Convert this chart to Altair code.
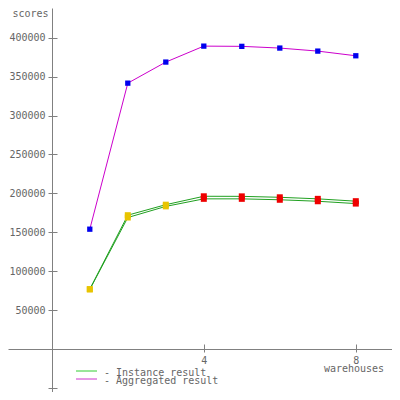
import altair as alt
import pandas as pd

# ---- data ----
warehouses = [1, 2, 3, 4, 5, 6, 7, 8]
instance_1 = [77000, 172000, 185500, 196300, 196200, 195000, 193000, 190000]
instance_2 = [76500, 169000, 183300, 193000, 193000, 191800, 189900, 186900]
aggregated = [154000, 341700, 368800, 389300, 389000, 386800, 382900, 376900]
phase = ["ramp", "ramp", "ramp", "peak", "peak", "peak", "peak", "peak"]

x_ticks = [4, 8]
y_ticks = [-50000, 50000, 100000, 150000, 200000, 250000, 300000, 350000, 400000]
legend_labels = ["- Instance result", "- Aggregated result"]

# ---- tables ----
rows = []
for name, vals in [("Instance 1", instance_1), ("Instance 2", instance_2), ("Aggregated", aggregated)]:
    for i, (w, v) in enumerate(zip(warehouses, vals)):
        rows.append({
            "warehouses": w,
            "score": v,
            "series": name,
            "kind": "Aggregated" if name == "Aggregated" else "Instance",
            "marker": "aggregate" if name == "Aggregated" else phase[i],
        })
df = pd.DataFrame(rows)

W, H = 384, 384
x_dom = [-1.1526, 8.9527]
y_dom = [-55270, 438303]
FONT = "DejaVu Sans Mono"
GRAY = "#808080"
TXT = "#666666"

x_scale = alt.Scale(domain=x_dom, nice=False, zero=False)
y_scale = alt.Scale(domain=y_dom, nice=False, zero=False)

x_axis = alt.Axis(
    orient="bottom", offset=-43, values=x_ticks, tickSize=3, labelPadding=11,
    labelBaseline="alphabetic", labelFont=FONT, labelFontSize=10, labelColor=TXT,
    domainColor=GRAY, tickColor=GRAY, grid=False, title="warehouses",
    titleFont=FONT, titleFontSize=10, titleFontWeight="normal", titleColor=TXT,
    titleX=345.5, titleY=22, titleAlign="center", titleBaseline="alphabetic",
    labelFlush=False, labelOverlap=False,
)
y_axis = alt.Axis(
    orient="left", offset=-44, values=y_ticks, tickSize=4, labelPadding=3,
    labelExpr="datum.value > 0 ? datum.label : ''", format="d",
    labelFont=FONT, labelFontSize=10, labelColor=TXT,
    domainColor=GRAY, tickColor=GRAY, grid=False, title="scores",
    titleFont=FONT, titleFontSize=10, titleFontWeight="normal", titleColor=TXT,
    titleAngle=0, titleX=-22, titleY=8, titleAlign="center", titleBaseline="alphabetic",
    labelFlush=False, labelOverlap=False,
)

base = alt.Chart(df)
marker_scale = alt.Scale(domain=["ramp", "peak", "aggregate"],
                         range=["#e8c400", "#ee0000", "#0000ee"])

lines = base.mark_line(strokeWidth=1).encode(
    x=alt.X("warehouses:Q", scale=x_scale, axis=x_axis),
    y=alt.Y("score:Q", scale=y_scale, axis=y_axis),
    color=alt.Color("kind:N", scale=alt.Scale(domain=["Instance", "Aggregated"],
                                              range=["#20a020", "#cc00cc"]), legend=None),
    detail="series:N",
)

inst_points = base.transform_filter("datum.kind == 'Instance'").mark_point(
    shape="square", filled=True, opacity=1, size=36
).encode(
    x=alt.X("warehouses:Q", scale=x_scale, axis=x_axis),
    y=alt.Y("score:Q", scale=y_scale, axis=y_axis),
    fill=alt.Fill("marker:N", scale=marker_scale, legend=None),
)
agg_points = base.transform_filter("datum.kind == 'Aggregated'").mark_point(
    shape="square", filled=True, opacity=1, size=28
).encode(
    x=alt.X("warehouses:Q", scale=x_scale, axis=x_axis),
    y=alt.Y("score:Q", scale=y_scale, axis=y_axis),
    fill=alt.Fill("marker:N", scale=marker_scale, legend=None),
)

main = alt.layer(lines, inst_points, agg_points)

# second set of axes so that ticks cross the axis lines
tick_layer = base.mark_point(opacity=0).encode(
    x=alt.X("warehouses:Q", scale=x_scale,
            axis=alt.Axis(orient="top", offset=-341, values=x_ticks, tickSize=5, labels=False,
                          domain=False, grid=False, title=None, tickColor=GRAY)),
    y=alt.Y("score:Q", scale=y_scale,
            axis=alt.Axis(orient="right", offset=-340, values=y_ticks, tickSize=5, labels=False,
                          domain=False, grid=False, title=None, tickColor=GRAY)),
)

# legend
leg_rule_1 = alt.Chart(pd.DataFrame({"label": [legend_labels[0]]})).mark_rule(strokeWidth=1).encode(
    x=alt.value(68), x2=alt.value(89), y=alt.value(363), color=alt.value("#33cc33"))
leg_rule_2 = alt.Chart(pd.DataFrame({"label": [legend_labels[1]]})).mark_rule(strokeWidth=1).encode(
    x=alt.value(68), x2=alt.value(89), y=alt.value(371), color=alt.value("#cc33cc"))
leg_text_1 = alt.Chart(pd.DataFrame({"label": [legend_labels[0]]})).mark_text(
    font=FONT, fontSize=10, align="left", baseline="alphabetic").encode(
    text="label:N", x=alt.value(96), y=alt.value(367.5), color=alt.value(TXT))
leg_text_2 = alt.Chart(pd.DataFrame({"label": [legend_labels[1]]})).mark_text(
    font=FONT, fontSize=10, align="left", baseline="alphabetic").encode(
    text="label:N", x=alt.value(96), y=alt.value(375.5), color=alt.value(TXT))

chart = alt.layer(
    main, tick_layer, leg_rule_1, leg_rule_2, leg_text_1, leg_text_2
).resolve_axis(x="independent", y="independent").properties(
    width=W, height=H, padding=0,
    autosize=alt.AutoSizeParams(type="none"),
    background="white",
).configure_view(strokeWidth=0)

chart.save("out.html", embed_options={"renderer": "svg", "actions": False})
